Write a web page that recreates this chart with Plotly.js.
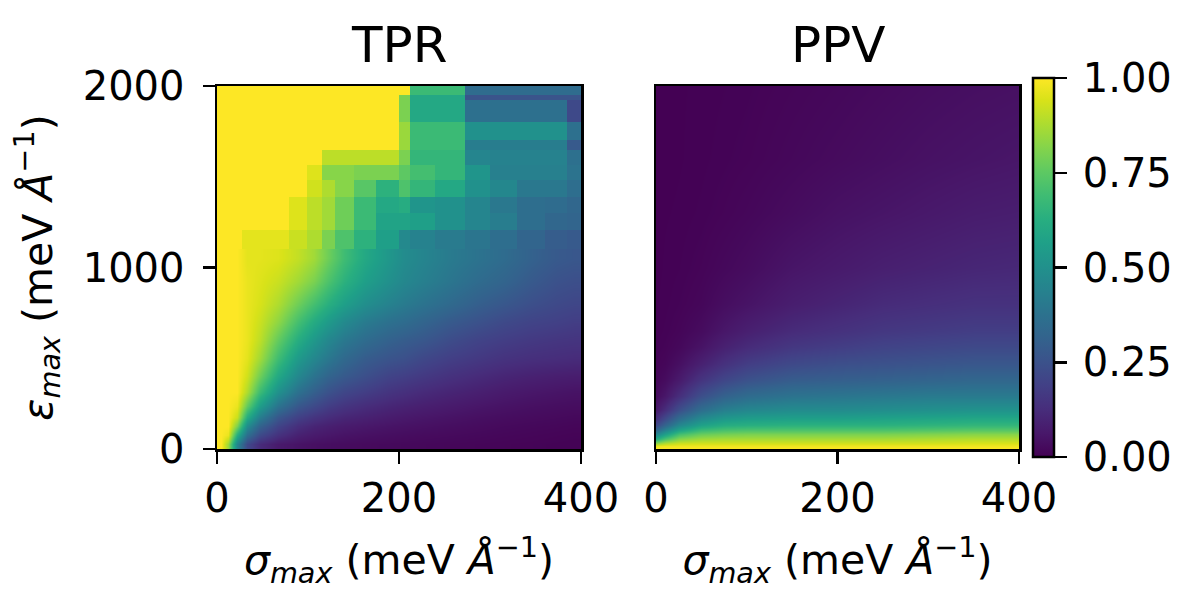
<!DOCTYPE html>
<html>
<head>
<meta charset="utf-8">
<script src="https://cdn.plot.ly/plotly-3.0.1.min.js"></script>
<style>html,body{margin:0;padding:0;background:#fff;}#chart{width:1200px;height:600px;}</style>
</head>
<body>
<div id="chart"></div>
<script>
// ---------- data ----------
// TPR, lower (smooth) part: sample centres (sigma_max, eps_max); rows = eps, bottom first
const tprLowSigma = [4,12,21.5,33.5,47.5,67,89,107,122.5,140,162.5,187.5,206,226,256,286,315,345,372.5,392.5];
const tprLowEps = [25,75,125,175,237.5,312.5,400,500,600,700,800,925,1050];
const tprLowValues = [
  [1,0.85,0.45,0.22,0.12,0.07,0.05,0.04,0.035,0.03,0.025,0.022,0.02,0.018,0.015,0.012,0.01,0.008,0.006,0.005],
  [1,0.97,0.62,0.36,0.22,0.14,0.09,0.07,0.06,0.05,0.042,0.036,0.032,0.028,0.024,0.02,0.016,0.013,0.01,0.008],
  [1,1,0.8,0.48,0.31,0.2,0.13,0.1,0.085,0.072,0.062,0.052,0.047,0.042,0.035,0.029,0.023,0.019,0.016,0.013],
  [1,1,0.92,0.62,0.42,0.27,0.19,0.15,0.125,0.105,0.09,0.075,0.066,0.058,0.049,0.04,0.033,0.028,0.024,0.021],
  [1,1,0.97,0.76,0.55,0.38,0.27,0.22,0.18,0.15,0.125,0.105,0.094,0.083,0.07,0.058,0.048,0.04,0.035,0.032],
  [1,1,1,0.88,0.68,0.5,0.37,0.3,0.25,0.21,0.18,0.15,0.135,0.118,0.1,0.085,0.07,0.06,0.053,0.048],
  [1,1,1,0.93,0.78,0.6,0.46,0.38,0.32,0.28,0.24,0.2,0.185,0.165,0.14,0.12,0.102,0.09,0.082,0.078],
  [1,1,1,0.96,0.86,0.69,0.54,0.46,0.4,0.34,0.29,0.26,0.245,0.215,0.185,0.165,0.145,0.133,0.127,0.122],
  [1,1,1,0.97,0.9,0.76,0.62,0.53,0.46,0.4,0.35,0.31,0.29,0.27,0.23,0.2,0.18,0.165,0.155,0.15],
  [1,1,1,0.97,0.92,0.83,0.7,0.61,0.54,0.47,0.41,0.37,0.35,0.32,0.28,0.25,0.22,0.2,0.19,0.18],
  [1,1,1,0.97,0.94,0.88,0.78,0.7,0.63,0.56,0.49,0.44,0.41,0.38,0.34,0.3,0.27,0.24,0.22,0.21],
  [1,1,1,0.97,0.95,0.92,0.86,0.8,0.72,0.64,0.56,0.5,0.46,0.43,0.39,0.35,0.32,0.28,0.25,0.24],
  [1,1,1,0.96,0.96,0.95,0.91,0.86,0.78,0.69,0.6,0.53,0.48,0.45,0.41,0.38,0.35,0.31,0.28,0.27]
];
// TPR, upper (blocky) part: brick edges and values per brick; rows = eps, bottom first
const tprHighSigmaEdges = [0,8,16,27,40,55,79,99,115,130,150,175,200,212,240,272,300,330,360,385,400];
const tprHighEpsEdges = [1100,1207,1300,1390,1480,1565,1650,1700,1800,1925,1950,2000];
const tprHighValues = [
  [1,1,1,0.96,0.96,0.96,0.92,0.88,0.8,0.72,0.64,0.56,0.47,0.44,0.41,0.39,0.36,0.32,0.29,0.28],
  [1,1,1,1,1,1,0.95,0.9,0.86,0.78,0.68,0.58,0.58,0.56,0.5,0.45,0.42,0.36,0.33,0.32],
  [1,1,1,1,1,1,0.95,0.9,0.86,0.78,0.68,0.6,0.62,0.52,0.5,0.45,0.4,0.36,0.35,0.33],
  [1,1,1,1,1,1,1,0.93,0.88,0.82,0.74,0.64,0.72,0.66,0.6,0.5,0.46,0.4,0.4,0.36],
  [1,1,1,1,1,1,1,0.95,0.82,0.82,0.8,0.8,0.75,0.7,0.66,0.52,0.43,0.43,0.43,0.38],
  [1,1,1,1,1,1,1,1,0.9,0.9,0.9,0.9,0.8,0.66,0.66,0.45,0.44,0.44,0.44,0.37],
  [1,1,1,1,1,1,1,1,1,1,1,1,0.85,0.68,0.68,0.42,0.42,0.42,0.42,0.28],
  [1,1,1,1,1,1,1,1,1,1,1,1,0.85,0.68,0.68,0.5,0.5,0.5,0.5,0.37],
  [1,1,1,1,1,1,1,1,1,1,1,1,0.8,0.6,0.6,0.37,0.37,0.37,0.37,0.22],
  [1,1,1,1,1,1,1,1,1,1,1,1,0.8,0.6,0.6,0.26,0.26,0.26,0.26,0.26],
  [1,1,1,1,1,1,1,1,1,1,1,1,1,0.68,0.68,0.35,0.35,0.35,0.35,0.35]
];

// PPV panel: sample points (sigma_max, eps_max) and values (rows = eps, bottom first)
const ppvSigma = [0,10,25,50,75,100,150,200,250,300,350,400];
const ppvEps = [0,15,35,55,80,105,135,165,215,290,380,470,560,650,800,1000,1300,1600,2000];
const ppvValues = [
  [1,1,1,1,1,1,1,1,1,1,1,1],
  [0.97,0.98,0.98,0.98,0.98,0.98,0.98,0.98,0.98,0.98,0.98,0.98],
  [0.82,0.88,0.92,0.93,0.93,0.93,0.93,0.93,0.93,0.93,0.94,0.94],
  [0.62,0.72,0.82,0.86,0.87,0.87,0.87,0.87,0.87,0.88,0.89,0.89],
  [0.45,0.56,0.7,0.77,0.79,0.8,0.8,0.8,0.8,0.81,0.82,0.82],
  [0.33,0.44,0.58,0.68,0.71,0.72,0.72,0.72,0.72,0.73,0.74,0.74],
  [0.22,0.32,0.46,0.57,0.62,0.63,0.64,0.64,0.64,0.65,0.66,0.66],
  [0.14,0.23,0.36,0.48,0.54,0.56,0.57,0.57,0.58,0.59,0.6,0.6],
  [0.07,0.13,0.24,0.36,0.43,0.46,0.48,0.48,0.49,0.5,0.51,0.51],
  [0.03,0.06,0.13,0.24,0.31,0.35,0.38,0.39,0.4,0.41,0.41,0.41],
  [0.015,0.03,0.07,0.15,0.21,0.25,0.29,0.3,0.31,0.32,0.33,0.33],
  [0.008,0.015,0.04,0.09,0.14,0.18,0.22,0.24,0.25,0.26,0.27,0.27],
  [0.004,0.008,0.02,0.05,0.09,0.12,0.16,0.18,0.2,0.21,0.22,0.22],
  [0.002,0.005,0.012,0.03,0.06,0.085,0.12,0.14,0.16,0.17,0.18,0.18],
  [0.001,0.003,0.007,0.016,0.035,0.05,0.08,0.1,0.12,0.13,0.14,0.14],
  [0,0.002,0.004,0.01,0.02,0.03,0.055,0.07,0.085,0.095,0.105,0.11],
  [0,0.001,0.002,0.005,0.01,0.016,0.03,0.045,0.055,0.065,0.075,0.08],
  [0,0,0.001,0.003,0.006,0.009,0.018,0.027,0.036,0.045,0.052,0.058],
  [0,0,0.001,0.002,0.004,0.006,0.012,0.018,0.025,0.032,0.038,0.042]
];

const sigmaTicks = [0,200,400];
const epsTicks = [0,1000,2000];
const cbarTicks = [0,0.25,0.5,0.75,1];
const cbarTickText = ['0.00','0.25','0.50','0.75','1.00'];
const panelTitles = ['TPR','PPV'];
const xTitle = '<i>σ<sub>max</sub></i> (meV <i>Å</i><sup>−1</sup>)';
const yTitle = '<i>ε<sub>max</sub></i> (meV <i>Å</i><sup>−1</sup>)';

// ---------- chart ----------
const FONT = 'DejaVu Sans, Liberation Sans, sans-serif';
const W = 1200, H = 600;
const px = v => v / W, py = v => 1 - v / H;
const TICKFONT = {family:FONT, size:40, color:'#000'};
const TITLEFONT = {family:FONT, size:41, color:'#000'};

const traces = [
  {type:'heatmap', x: tprLowSigma, y: tprLowEps, z: tprLowValues,
   coloraxis:'coloraxis', xaxis:'x', yaxis:'y', zsmooth:'best'},
  {type:'heatmap', x: tprHighSigmaEdges, y: tprHighEpsEdges, z: tprHighValues,
   coloraxis:'coloraxis', xaxis:'x', yaxis:'y', zsmooth:false},
  {type:'heatmap', x: ppvSigma, y: ppvEps, z: ppvValues,
   coloraxis:'coloraxis', xaxis:'x2', yaxis:'y2', zsmooth:'best'}
];

const axisCommon = {
  showgrid:false, zeroline:false, showline:true, mirror:true,
  linecolor:'#000', linewidth:2.5, ticks:'outside', ticklen:12, tickwidth:2.5,
  tickcolor:'#000', tickfont:TICKFONT
};

const layout = {
  width:W, height:H, margin:{l:0,r:0,t:0,b:0},
  paper_bgcolor:'#fff', plot_bgcolor:'#fff', showlegend:false,
  font:{family:FONT, color:'#000'},
  coloraxis:{
    colorscale:'Viridis', cmin:0, cmax:1,
    colorbar:{
      x:px(1033), xanchor:'left', xpad:0, ypad:0,
      y:py(267.5), yanchor:'middle', lenmode:'pixels', len:379,
      thicknessmode:'pixels', thickness:21,
      outlinewidth:2.5, outlinecolor:'#000',
      ticks:'outside', ticklen:12, tickwidth:2.5, tickcolor:'#000',
      tickvals:cbarTicks, ticktext:cbarTickText.map(t => '\u2009' + t),
      tickfont:TICKFONT
    }
  },
  xaxis: Object.assign({}, axisCommon, {
    domain:[px(217), px(581)], range:[0,400], tickvals:sigmaTicks, anchor:'y',
    title:{text:xTitle, font:TITLEFONT, standoff:26}
  }),
  yaxis: Object.assign({}, axisCommon, {
    domain:[py(449), py(86)], range:[0,2000], tickvals:epsTicks, anchor:'x',
    ticklabelstandoff:10,
    title:{text:yTitle, font:TITLEFONT, standoff:18}
  }),
  xaxis2: Object.assign({}, axisCommon, {
    domain:[px(656), px(1019)], range:[0,400], tickvals:sigmaTicks, anchor:'y2',
    title:{text:xTitle, font:TITLEFONT, standoff:26}
  }),
  yaxis2: Object.assign({}, axisCommon, {
    domain:[py(449), py(86)], range:[0,2000], anchor:'x2',
    ticks:'', showticklabels:false
  }),
  annotations: [
    {text:panelTitles[0], xref:'paper', yref:'paper', x:px(399), y:py(45), xanchor:'center', yanchor:'middle',
     showarrow:false, font:{family:FONT, size:50, color:'#000'}},
    {text:panelTitles[1], xref:'paper', yref:'paper', x:px(838), y:py(45), xanchor:'center', yanchor:'middle',
     showarrow:false, font:{family:FONT, size:50, color:'#000'}}
  ]
};

Plotly.newPlot('chart', traces, layout, {displayModeBar:false, staticPlot:true});
</script>
</body>
</html>
